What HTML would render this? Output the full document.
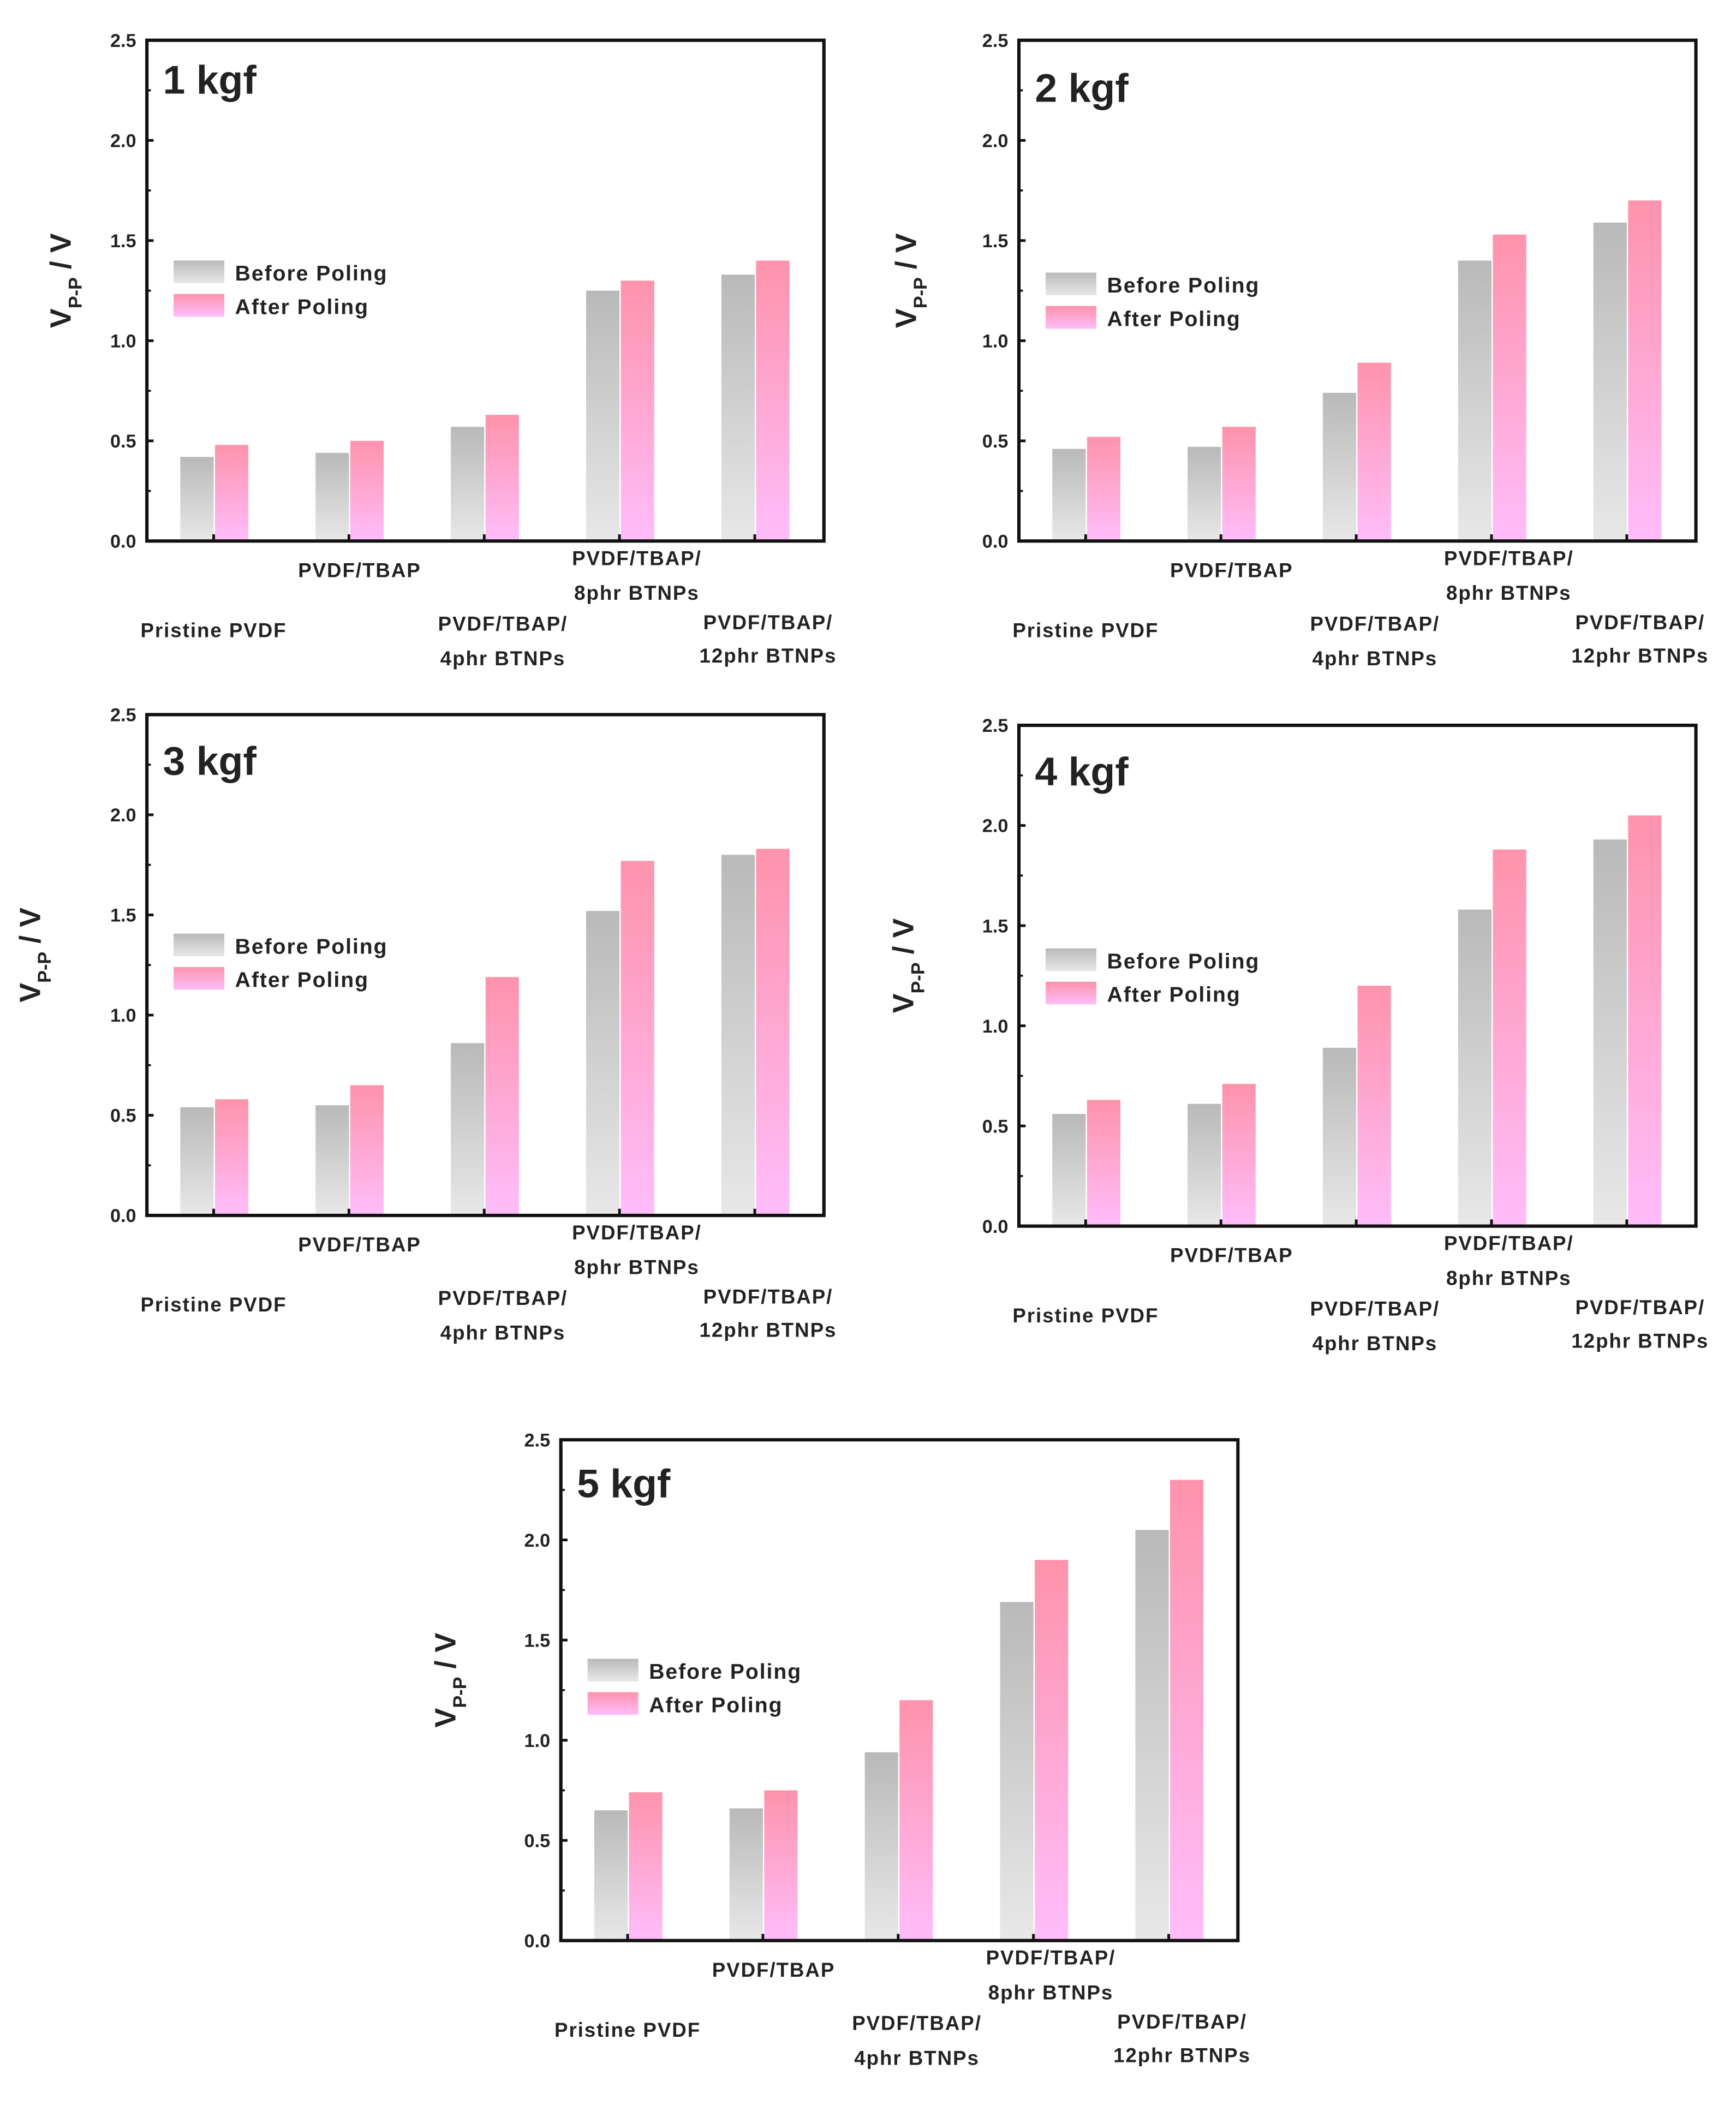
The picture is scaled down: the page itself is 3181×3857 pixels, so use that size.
<!DOCTYPE html>
<html><head><meta charset="utf-8"><style>
html,body{margin:0;padding:0;background:#fff}
svg{display:block}
text{font-family:"Liberation Sans",sans-serif;font-weight:bold;fill:#222}
</style></head><body>
<svg id="fig" width="3181" height="3857" viewBox="0 0 1300 1576" xmlns="http://www.w3.org/2000/svg">
<defs>
<linearGradient id="gGray" x1="0" y1="0" x2="0" y2="1"><stop offset="0" stop-color="#b9b9b9"/><stop offset="1" stop-color="#e8e8e8"/></linearGradient>
<linearGradient id="gPink" x1="0" y1="0" x2="0" y2="1"><stop offset="0" stop-color="#fe93ac"/><stop offset="1" stop-color="#ffbdfa"/></linearGradient>
</defs>
</svg>
<script>
const categories = ["Pristine PVDF","PVDF/TBAP","PVDF/TBAP/ 4phr BTNPs","PVDF/TBAP/ 8phr BTNPs","PVDF/TBAP/ 12phr BTNPs"];
const panelTitles = ["1 kgf","2 kgf","3 kgf","4 kgf","5 kgf"];
const seriesNames = ["Before Poling","After Poling"];
const yTicks = [0.0,0.5,1.0,1.5,2.0,2.5];
const before1 = [0.42,0.44,0.57,1.25,1.33];
const after1  = [0.48,0.50,0.63,1.30,1.40];
const before2 = [0.46,0.47,0.74,1.40,1.59];
const after2  = [0.52,0.57,0.89,1.53,1.70];
const before3 = [0.54,0.55,0.86,1.52,1.80];
const after3  = [0.58,0.65,1.19,1.77,1.83];
const before4 = [0.56,0.61,0.89,1.58,1.93];
const after4  = [0.63,0.71,1.20,1.88,2.05];
const before5 = [0.65,0.66,0.94,1.69,2.05];
const after5  = [0.74,0.75,1.20,1.90,2.30];

const svg = document.getElementById('fig');
const NS = 'http://www.w3.org/2000/svg';
function mk(tag, attrs, parent){const e=document.createElementNS(NS,tag);for(const k in attrs)e.setAttribute(k,attrs[k]);parent.appendChild(e);return e;}

// layout: box left, top, width, height, ylabel x, legend y, title y, label offsets
const layouts = [
  {x:110,y:30,ylx:45,legY:195,titleY:70},
  {x:763,y:30,ylx:678,legY:204,titleY:76},
  {x:110,y:535,ylx:22,legY:699,titleY:580},
  {x:763,y:543,ylx:676,legY:710,titleY:588},
  {x:420,y:1078,ylx:333,legY:1242,titleY:1121}
];
const W=507,H=375;
// category label rows relative to box bottom and center x offset
const labelRows = [[{dy:72,t:0}],[{dy:27,t:0}],[{dy:67,t:0},{dy:93,t:1}],[{dy:18,t:0},{dy:44,t:1}],[{dy:66,t:0},{dy:91,t:1}]];
const labelDx = [0,4,14,13,10];
const allBefore=[before1,before2,before3,before4,before5];
const allAfter=[after1,after2,after3,after4,after5];

layouts.forEach((L,p)=>{
  const g=mk('g',{},svg);
  
  
  const yS=v=>L.y+H-(v/2.5)*H;
  const xC=i=>L.x+50+i*101.3;
  const bw=25;
  // bars
  allBefore[p].forEach((v,i)=>{
    const r=mk('rect',{x:xC(i)-bw,y:yS(v),width:bw,height:yS(0)-yS(v),fill:'url(#gGray)'},g);
    
    
  });
  allAfter[p].forEach((v,i)=>{
    const r=mk('rect',{x:xC(i)+1,y:yS(v),width:bw,height:yS(0)-yS(v),fill:'url(#gPink)'},g);
    
    
  });
  // frame
  const fr=mk('rect',{x:L.x,y:L.y,width:W,height:H,fill:'none',stroke:'#111','stroke-width':2.5},g);
  
  
  // y ticks
  yTicks.forEach(v=>{
    mk('line',{x1:L.x,x2:L.x+5,y1:yS(v),y2:yS(v),stroke:'#111','stroke-width':2},g);
    const t=mk('text',{x:L.x-8,y:yS(v)+5,'text-anchor':'end','font-size':14},g);
    t.textContent=v.toFixed(1);
    
    
  });
  for(let v=0.25;v<2.5;v+=0.5) mk('line',{x1:L.x,x2:L.x+3,y1:yS(v),y2:yS(v),stroke:'#111','stroke-width':1.5},g);
  // x ticks + labels
  categories.forEach((c,i)=>{
    mk('line',{x1:xC(i),x2:xC(i),y1:yS(0),y2:yS(0)-5,stroke:'#111','stroke-width':2},g);
    const parts=c.split(' ');
    const lines = parts.length>2 ? [parts[0],parts.slice(1).join(' ')] : [c];
    labelRows[i].forEach((row,k)=>{
      const t=mk('text',{x:xC(i)+labelDx[i]+(i===1?4:0),y:L.y+H+row.dy,'text-anchor':'middle','font-size':15,'letter-spacing':0.8},g);
      t.textContent=lines[row.t];
      
      
    });
  });
  // title
  const ti=mk('text',{x:L.x+12,y:L.titleY,'font-size':30},g);
  ti.textContent=panelTitles[p];
  
  
  // y-axis title
  const cy=L.y+H*0.48;
  const yt=mk('text',{transform:`translate(${L.ylx+8},${cy}) rotate(-90)`,'text-anchor':'middle','font-size':22},g);
  yt.innerHTML='V<tspan font-size="14" dy="8">P-P</tspan><tspan dy="-8"> / V</tspan>';
  
  
  // legend
  seriesNames.forEach((s,k)=>{
    const ly=L.legY+k*25;
    const sw=mk('rect',{x:L.x+20,y:ly,width:38,height:17,fill:k?'url(#gPink)':'url(#gGray)'},g);
    
    
    const t=mk('text',{x:L.x+66,y:ly+15,'font-size':16,'letter-spacing':0.8},g);
    t.textContent=s;
    
    
  });
});
</script>
</body></html>
